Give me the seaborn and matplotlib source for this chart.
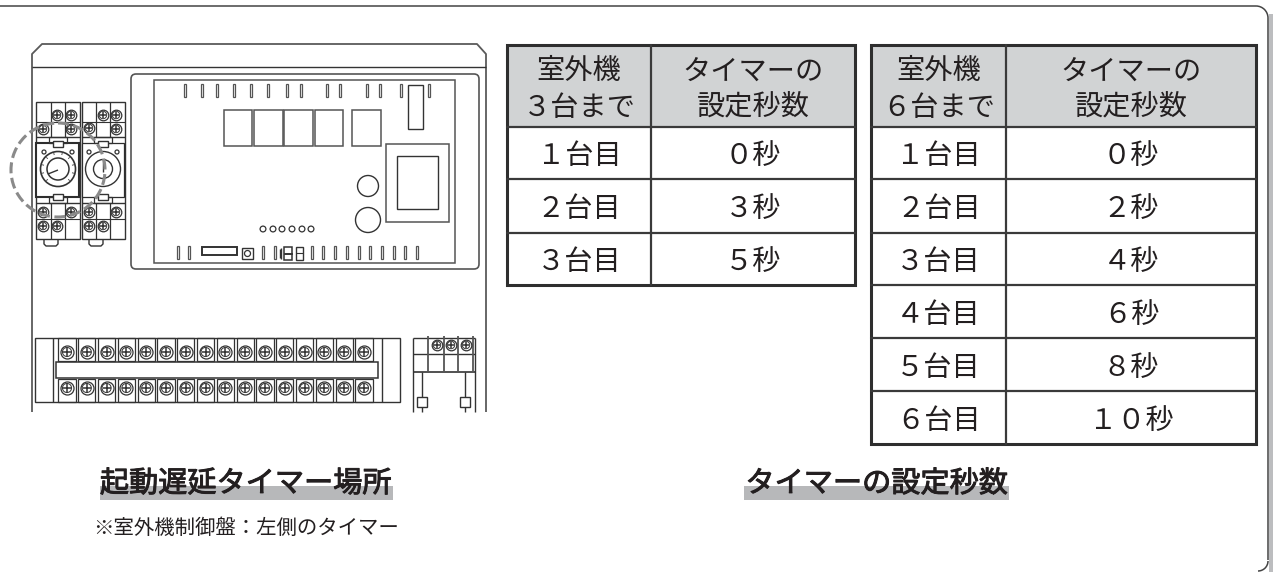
import numpy as np
import matplotlib
matplotlib.use("Agg")
import matplotlib.pyplot as plt
import matplotlib.patheffects as pe
from matplotlib.colors import ListedColormap
from matplotlib.patches import Rectangle, Circle, FancyBboxPatch, Arc
from matplotlib.transforms import ScaledTranslation
import seaborn as sns

sns.set_theme(style="white")
plt.rcParams['font.family'] = ['Noto Sans CJK JP', 'DejaVu Sans']

# ---------- data ----------
units_3 = [1, 2, 3]
seconds_3 = [0, 3, 5]
units_6 = [1, 2, 3, 4, 5, 6]
seconds_6 = [0, 2, 4, 6, 8, 10]
header_timer = "タイマーの\n設定秒数"
header_3 = "室外機\n3台まで"
header_6 = "室外機\n6台まで"
title_left = "起動遅延タイマー場所"
title_right = "タイマーの設定秒数"
note_left = "※室外機制御盤：左側のタイマー"

W, H = 1273, 572
INK = '#231f20'
LINE = '#333333'
GREY = '#d1d3d4'
FW = str.maketrans("0123456789", "０１２３４５６７８９")
fw = lambda s: str(s).translate(FW)

fig = plt.figure(figsize=(W / 100, H / 100), dpi=100, facecolor='white')
ax = fig.add_axes([0, 0, 1, 1], zorder=0)
ax.set_xlim(0, W); ax.set_ylim(H, 0); ax.axis('off')
top = fig.add_axes([0, 0, 1, 1], zorder=5)
top.set_xlim(0, W); top.set_ylim(H, 0); top.axis('off'); top.patch.set_alpha(0)


def block(x0, x1, y0, y1, labels, fill, size=20.3, drop=3.0):
    a = fig.add_axes([x0 / W, 1 - y1 / H, (x1 - x0) / W, (y1 - y0) / H], zorder=2)
    vals = np.full((len(labels), 1), fill)
    sns.heatmap(vals, annot=np.array(labels, dtype=object).reshape(-1, 1), fmt='',
                cmap=ListedColormap(['white', GREY]), vmin=0, vmax=1, cbar=False,
                xticklabels=False, yticklabels=False, ax=a,
                annot_kws=dict(fontsize=size, color=INK, linespacing=1.28,
                               family=['Noto Sans CJK JP', 'DejaVu Sans']))
    for t in a.texts:
        t.set_transform(t.get_transform() +
                        ScaledTranslation(0, -drop / 100, fig.dpi_scale_trans))
    return a


def table(xs, ys, head_a, units, secs):
    xl, xm, xr = xs
    yt, yh = ys[0], ys[1]
    yb = ys[-1]
    block(xl, xm, yt, yh, [fw(head_a)], 1, drop=3.5)
    block(xm, xr, yt, yh, [header_timer], 1, drop=3.5)
    block(xl, xm, yh, yb, [fw(u) + "台目" for u in units], 0)
    block(xm, xr, yh, yb, [fw(s) + "秒" for s in secs], 0)
    top.add_patch(Rectangle((xl, yt), xr - xl, yb - yt, fill=False, ec='#2e2e2e', lw=2.2))
    top.plot([xm, xm], [yt, yb], color='#3a3a3a', lw=1.6)
    for y in ys[1:-1]:
        top.plot([xl, xr], [y, y], color='#3a3a3a', lw=1.6)


table((507, 651, 855), (45, 127, 179, 233, 285), header_3, units_3, seconds_3)
table((871, 1006, 1256), (45, 127, 179, 233, 285, 338, 391, 444), header_6, units_6, seconds_6)


# ---------- drawing helpers ----------
def rect(x0, y0, x1, y1, lw=1.0, ec=LINE, fc='none', z=2):
    ax.add_patch(Rectangle((x0, y0), x1 - x0, y1 - y0, fc=fc, ec=ec, lw=lw, zorder=z))


def lines(xs, ys, lw=1.0, c=LINE, z=2):
    ax.plot(xs, ys, color=c, lw=lw, zorder=z, solid_capstyle='butt')


def circ(x, y, r, lw=1.0, c=LINE, z=3, fc='none'):
    ax.add_patch(Circle((x, y), r, fc=fc, ec=c, lw=lw, zorder=z))


def screws(xs, ys, r):
    d = 2 * r * 0.72
    sns.scatterplot(x=xs, y=ys, ax=ax, marker='o', s=d ** 2, facecolor='white',
                    edgecolor=LINE, linewidth=0.9, zorder=4, legend=False)
    sns.scatterplot(x=xs, y=ys, ax=ax, marker='o', s=(d * 0.7) ** 2, facecolor='none',
                    edgecolor=LINE, linewidth=0.7, zorder=5, legend=False)
    sns.scatterplot(x=xs, y=ys, ax=ax, marker='+', s=(d * 0.6) ** 2, color=LINE,
                    linewidth=1.1, zorder=5, legend=False)
    ax.set_xlim(0, W); ax.set_ylim(H, 0)


# ---------- panel border ----------
ax.add_patch(Rectangle((1269, 14), 4, H - 14, fc='#bcbdbf', ec='none', zorder=1))
lines([0, 1256], [6, 6], lw=1.1, c='#444444')
ax.add_patch(Arc((1256, 18), 24, 24, theta1=270, theta2=360, ec='#444444', lw=1.1))
lines([1268, 1268], [18, 560], lw=1.1, c='#444444')
ax.add_patch(Arc((1258, 561), 20, 20, theta1=0, theta2=90, ec='#444444', lw=1.1))

# ---------- cabinet ----------
lines([32, 32, 42, 477, 486, 486], [412, 54, 44, 44, 54, 412], lw=1.3, c='#5a5a5a')
lines([32, 486], [67, 67], lw=1.0)
ax.add_patch(FancyBboxPatch((131, 74), 348, 195, boxstyle="round,pad=0,rounding_size=5",
                            fc='none', ec='#555555', lw=1.2))
rect(154, 80, 455, 263, lw=1.1, ec='#555555')

slots_top = [185, 202, 217, 234, 251, 268, 287, 301, 327, 340, 367, 380, 401, 429]
for x in slots_top:
    rect(x - 1.3, 84, x + 1.3, 97, lw=0.9, ec='#555555')
rect(408, 85, 423, 129, lw=1.0)
for x0, x1 in [(224, 252), (254, 283), (284, 313), (315, 343), (352, 381)]:
    rect(x0, 110, x1, 146, lw=1.1, ec='#555555')
rect(386, 144, 449, 222, lw=1.1, ec='#555555')
rect(397, 156, 438, 209, lw=1.0)
circ(368, 186, 10.5)
circ(368, 220, 12.5)
for x in [263, 273, 282, 292, 302, 311]:
    circ(x, 229, 2.9, lw=0.9)
slots_bot = [178, 189, 263, 275, 312, 323, 335, 347, 359, 370, 382, 394, 405, 417]
for x in slots_bot:
    rect(x - 1.3, 246, x + 1.3, 259, lw=0.9, ec='#555555')
rect(202, 247, 237, 255, lw=1.4)
rect(242, 248, 253, 259, lw=1.0)
circ(247.5, 253.5, 3, lw=0.9)
rect(284, 247, 292, 260, lw=1.1)
rect(284, 253, 292, 254, lw=0.7)
lines([281, 281], [248, 259])
lines([279.5, 279.5], [249, 258])
rect(296, 247, 303, 260, lw=1.0)
lines([296, 303], [253, 253], lw=0.8)

# ---------- relays ----------
for x0, x1, a, b in [(36, 80, 51, 65), (82, 125, 96, 110)]:
    rect(x0, 102, x1, 239)
    lines([a, a], [102, 137], lw=0.9); lines([b, b], [102, 137], lw=0.9)
    lines([a, a], [203, 239], lw=0.9); lines([b, b], [203, 239], lw=0.9)
    lines([x0, x1], [122, 122], lw=0.8); lines([x0, x1], [219, 219], lw=0.8)
    lines([x0, x1], [137, 137]); lines([x0, x1], [203, 203])
    body_lw = 1.5 if x0 == 36 else 0.9
    rect(x0, 143, x1 - 1, 197, lw=body_lw, ec='#2e2e2e', fc='white', z=3)
    rect(a - 2, 137, b + 2, 143, lw=0.9, z=3)
    rect(a + 2, 141, b - 2, 146.5, lw=1.0, fc='white', z=4)
    rect(a - 2, 197, b + 2, 203, lw=0.9, z=3)
    rect(a + 2, 194, b - 2, 199.5, lw=1.0, fc='white', z=4)
lines([44, 44, 46, 56, 58, 58], [239, 244, 246, 246, 244, 239])
lines([89, 89, 91, 101, 103, 103], [239, 244, 246, 246, 244, 239])
for x, y in [(44, 152), (72, 152), (89, 152), (117, 152)]:
    circ(x, y, 2, lw=0.9, z=5)
circ(58, 169, 17.5, lw=1.2, z=5)
circ(58, 169, 11, lw=1.1, z=5)
for t in np.deg2rad(np.arange(-225, 46, 30)):
    lines([58 + 14.5 * np.cos(t), 58 + 16.5 * np.cos(t)],
          [169 + 14.5 * np.sin(t), 169 + 16.5 * np.sin(t)], lw=0.6, z=5)
lines([48, 58], [174, 170], lw=1.0, z=5)
circ(103, 169, 17.5, lw=1.0, z=5)
circ(103, 169, 9.5, lw=1.0, z=5)
lines([103, 103], [159, 172], lw=1.0, z=5)

screws([57, 71, 71, 43, 103, 116, 116, 89], [115, 115, 129, 129, 115, 115, 129, 128], 5.3)
screws([43, 71, 43, 57, 89, 116, 89, 103], [212, 212, 226, 226, 212, 212, 226, 226], 5.3)

top.add_patch(Circle((58, 170), 47, fc='none', ec='#8a8a8a', lw=2.2, ls=(0, (3.6, 1.5))))

# ---------- terminal blocks ----------
rect(35, 338, 400, 402)
lines([53, 53], [338, 402]); lines([382, 382], [338, 402])
rect(56, 362, 378, 378, lw=1.1)
centers = [67 + 19.8 * i for i in range(16)]
for c in centers:
    rect(c - 8.6, 338, c + 8.6, 361, lw=0.9)
    rect(c - 8.6, 379, c + 8.6, 402, lw=0.9)
screws(centers, [352] * 16, 6.5)
screws(centers, [388] * 16, 6.5)

lines([413, 413], [338, 412]); lines([475, 475], [338, 412])
lines([413, 475], [338, 338]); lines([413, 475], [354, 354]); lines([413, 475], [372, 372], lw=1.2)
for x in [428, 444, 458, 473]:
    lines([x, x], [336, 372], lw=1.3, c='#555555')
screws([437, 451, 466], [345, 345, 345], 5.3)
for x in [422, 465]:
    lines([x, x], [372, 397]); rect(x - 5, 397, x + 5, 407); lines([x, x], [407, 412])

# ---------- captions ----------
stroke = [pe.withStroke(linewidth=0.7, foreground=INK)]
ax.add_patch(Rectangle((100, 486), 293, 14, fc='#b7b8ba', ec='none', zorder=1))
ax.add_patch(Rectangle((744, 486), 265, 14, fc='#b7b8ba', ec='none', zorder=1))
ax.text(245.5, 484, title_left, fontsize=21, color=INK, ha='center', va='center',
        zorder=3, path_effects=stroke)
ax.text(876.5, 484, title_right, fontsize=21, color=INK, ha='center', va='center',
        zorder=3, path_effects=stroke)
ax.text(93, 528, note_left, fontsize=14.7, color=INK, ha='left', va='center', zorder=3)

fig.savefig("out.png", dpi=100)
